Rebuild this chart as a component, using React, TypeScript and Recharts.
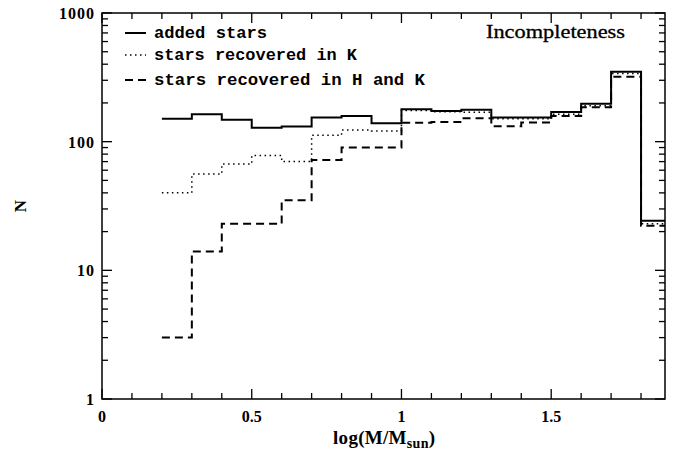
import React from 'react';
import { LineChart, Line, XAxis, YAxis, ReferenceArea, Customized } from 'recharts';

// bin edges (log M/Msun); each value applies from its edge to the next one
const binEdges = [0.2, 0.3, 0.4, 0.5, 0.6, 0.7, 0.8, 0.9, 1.0, 1.1, 1.2, 1.3, 1.4, 1.5, 1.6, 1.7, 1.8, 1.9];
const addedStars = [151, 163, 148, 128, 131, 154, 158, 139, 179, 173, 177, 154, 154, 170, 197, 349, 24.3];
const recoveredK = [40, 56, 67, 78, 70, 112, 123, 121, 175, 171, 169, 151, 151, 163, 190, 339, 23];
const recoveredHK = [3, 14, 23, 23, 35, 72, 90, 90, 140, 142, 152, 132, 141, 158, 185, 319, 22.2];

const xTicks = [0, 0.1, 0.2, 0.3, 0.4, 0.5, 0.6, 0.7, 0.8, 0.9, 1.0, 1.1, 1.2, 1.3, 1.4, 1.5, 1.6, 1.7, 1.8];
const xTickLabels: Record<string, string> = { '0': '0', '0.5': '0.5', '1': '1', '1.5': '1.5' };
const yTicks = [1, 2, 3, 4, 5, 6, 7, 8, 9, 10, 20, 30, 40, 50, 60, 70, 80, 90, 100, 200, 300, 400, 500, 600, 700, 800, 900, 1000];
const yTickLabels: Record<string, string> = { '1': '1', '10': '10', '100': '100', '1000': '1000' };

const legendItems = [
  { label: 'added stars', dash: undefined as string | undefined, width: 2 },
  { label: 'stars recovered in K', dash: '1.5 3.5', width: 1.5 },
  { label: 'stars recovered in H and K', dash: '8 5', width: 2 },
];

const data = binEdges.map((x, i) => {
  const j = Math.min(i, addedStars.length - 1);
  return { x, added: addedStars[j], k: recoveredK[j], hk: recoveredHK[j] };
});

const W = 685;
const H = 454;
const PLOT_LEFT = 102;
const PLOT_RIGHT = 665;
const PLOT_TOP = 13;
const PLOT_BOTTOM = 399;

const SERIF = '"Liberation Serif", "DejaVu Serif", serif';
const MONO = '"Liberation Mono", "DejaVu Sans Mono", monospace';

const XTick = (props: any) => {
  const { x, payload } = props;
  const v = payload.value as number;
  const major = Math.abs(v * 2 - Math.round(v * 2)) < 1e-6;
  const len = major ? 10 : 6;
  const key = String(Math.round(v * 10) / 10);
  const label = major ? xTickLabels[key] : undefined;
  return (
    <g>
      <line x1={x} x2={x} y1={PLOT_BOTTOM} y2={PLOT_BOTTOM - len} stroke="#000" strokeWidth={1.3} />
      <line x1={x} x2={x} y1={PLOT_TOP} y2={PLOT_TOP + len} stroke="#000" strokeWidth={1.3} />
      {label !== undefined && (
        <text x={x} y={422} textAnchor="middle" fontFamily={SERIF} fontWeight="bold" fontSize={16} fill="#000">
          {label}
        </text>
      )}
    </g>
  );
};

const YTick = (props: any) => {
  const { y, payload } = props;
  const v = payload.value as number;
  const lg = Math.log10(v);
  const major = Math.abs(lg - Math.round(lg)) < 1e-6;
  const len = major ? 10 : 6;
  const label = major ? yTickLabels[String(v)] : undefined;
  return (
    <g>
      <line x1={PLOT_LEFT} x2={PLOT_LEFT + len} y1={y} y2={y} stroke="#000" strokeWidth={1.3} />
      <line x1={PLOT_RIGHT} x2={PLOT_RIGHT - len} y1={y} y2={y} stroke="#000" strokeWidth={1.3} />
      {label !== undefined && (
        <text x={95} y={y + 6} textAnchor="end" fontFamily={SERIF} fontWeight="bold" fontSize={16} letterSpacing={1} fill="#000">
          {label}
        </text>
      )}
    </g>
  );
};

const Decorations = () => {
  const rowY = [33, 55, 80];
  const textLens = [113, 203, 271];
  return (
    <g>
      {legendItems.map((it, i) => (
        <g key={it.label}>
          <line x1={125} x2={146} y1={rowY[i]} y2={rowY[i]} stroke="#000" strokeWidth={it.width} strokeDasharray={it.dash} />
          <text x={154} y={rowY[i] + 5} fontFamily={MONO} fontWeight="bold" fontSize={17} fill="#000" textLength={textLens[i]} lengthAdjust="spacingAndGlyphs">
            {it.label}
          </text>
        </g>
      ))}
      <text x={486} y={38} fontFamily={SERIF} fontSize={18} fill="#000" stroke="#000" strokeWidth={0.3} textLength={139} lengthAdjust="spacingAndGlyphs">
        Incompleteness
      </text>
      <text x={20} y={206} transform="rotate(-90 20 206)" textAnchor="middle" dominantBaseline="central" fontFamily={SERIF} fontWeight="bold" fontSize={17} fill="#000">
        N
      </text>
      <text x={333} y={444} fontFamily={SERIF} fontWeight="bold" fontSize={19} fill="#000" letterSpacing={0.3}>
        log(M/M<tspan fontSize={14} dy={4}>sun</tspan><tspan dy={-4}>)</tspan>
      </text>
    </g>
  );
};

export default function App() {
  return (
    <div style={{ position: 'absolute', left: 0, top: 0, width: W, height: H, background: '#fff' }}>
      <LineChart
        width={W}
        height={H}
        data={data}
        margin={{ top: PLOT_TOP, right: W - PLOT_RIGHT, bottom: 0, left: 0 }}
      >
        <XAxis
          dataKey="x"
          type="number"
          domain={[0, 1.88]}
          allowDataOverflow
          ticks={xTicks}
          interval={0}
          tick={<XTick />}
          tickLine={false}
          axisLine={false}
          height={H - PLOT_BOTTOM}
        />
        <YAxis
          type="number"
          scale="log"
          domain={[1, 1000]}
          allowDataOverflow
          ticks={yTicks}
          interval={0}
          tick={<YTick />}
          tickLine={false}
          axisLine={false}
          width={PLOT_LEFT}
        />
        <ReferenceArea x1={0} x2={1.88} y1={1} y2={1000} fill="none" stroke="#000" strokeWidth={1.5} />
        <Line type="stepAfter" dataKey="hk" stroke="#000" strokeWidth={2} strokeDasharray="8 5" dot={false} isAnimationActive={false} />
        <Line type="stepAfter" dataKey="k" stroke="#000" strokeWidth={1.5} strokeDasharray="1.5 3.5" dot={false} isAnimationActive={false} />
        <Line type="stepAfter" dataKey="added" stroke="#000" strokeWidth={2} dot={false} isAnimationActive={false} />
        <Customized component={Decorations} />
      </LineChart>
    </div>
  );
}
